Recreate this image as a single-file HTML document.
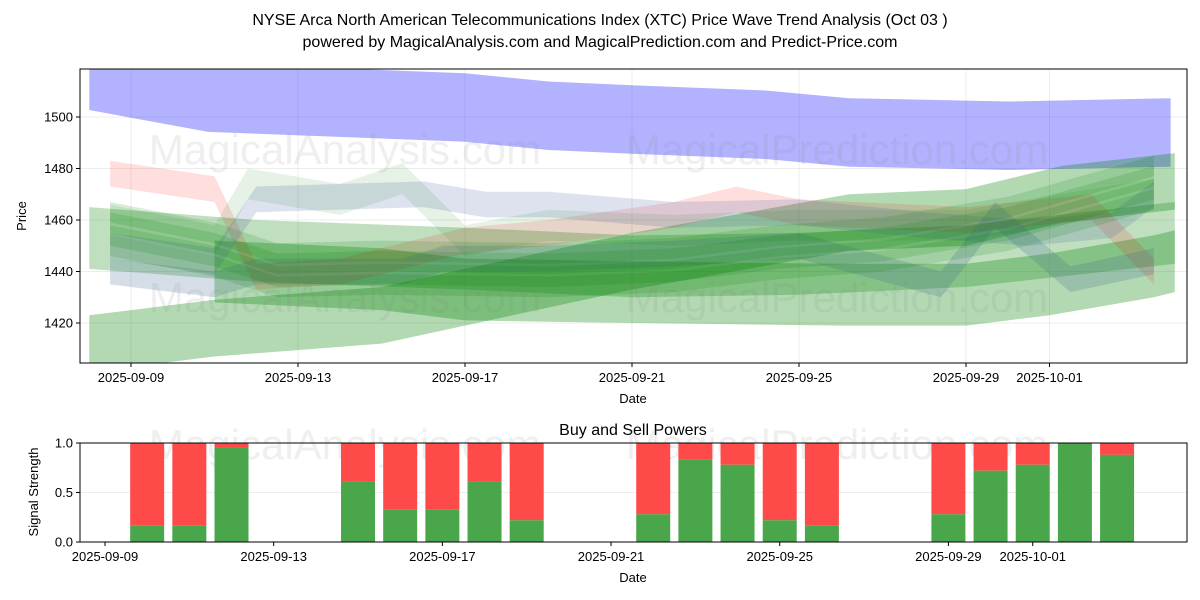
<!DOCTYPE html>
<html><head><meta charset="utf-8">
<style>
html,body{margin:0;padding:0;background:#fff;}
svg{display:block;font-family:"Liberation Sans","DejaVu Sans",sans-serif;}
</style></head>
<body>
<svg id="chart" width="1200" height="600" viewBox="0 0 1200 600" xmlns="http://www.w3.org/2000/svg">
  <rect x="0" y="0" width="1200" height="600" fill="#fff"/>
  <text x="600" y="25" text-anchor="middle" font-size="16" fill="#000">NYSE Arca North American Telecommunications Index (XTC) Price Wave Trend Analysis (Oct 03 )</text>
  <text x="600" y="47" text-anchor="middle" font-size="16" fill="#000">powered by MagicalAnalysis.com and MagicalPrediction.com and Predict-Price.com</text>
  <g id="topPanel"></g>
  <g id="botPanel"></g>
</svg>
<script>
// ---- price panel data (days offset from 2025-09-09) ----
const blueDays   = [-1, 1.85, 8, 10, 12, 15.2, 17.2, 21, 24.9];
const blueCenter = [1516, 1507.5, 1503.7, 1500.5, 1499, 1497, 1494, 1492.7, 1494];
const blueHalf   = 13.3;

const greenADays   = [-1, 2, 6, 8, 12, 17.2, 20, 22.3, 25];
const greenACenter = [1412, 1418, 1423, 1430, 1444, 1459, 1461, 1470, 1475];
const greenAHalf   = 11;

const greenBDays   = [2, 6, 8, 12, 17, 20, 22, 24.5, 25];
const greenBCenter = [1440, 1437, 1433, 1432, 1431, 1431, 1435, 1442, 1444];
const greenBHalf   = 12;

const greenCDays   = [-1, 3, 8, 12, 16, 20, 25];
const greenCCenter = [1453, 1448, 1445, 1442, 1443, 1446, 1455];
const greenCHalf   = 12;

const bundleDays   = [-0.5, 2, 3.5, 6, 10, 13, 15.5, 18, 21, 24.5];
const bundleCenter = [1456, 1448, 1440, 1441, 1440, 1442, 1447, 1450, 1458, 1474];
const bundleOffsets = [-6, -2, 3, 7];

const greyDays   = [-0.5, 2, 3, 7, 8.5, 10, 13, 16, 19, 21.5, 23.5, 24.5];
const greyCenter = [1450, 1444, 1468, 1470, 1466, 1466, 1462, 1463, 1458, 1455, 1458, 1470];

const zigDays   = [-0.5, 2, 3, 5, 6.5, 7.5, 10, 13, 16, 19.4, 20.7, 22.5, 24.5];
const zigCenter = [1440, 1435, 1440, 1440, 1440, 1445, 1445, 1447, 1450, 1435, 1462, 1437, 1444];

const lgDays   = [-0.5, 2, 2.8, 5, 6.5, 8, 10, 13, 16, 20, 24.5];
const lgCenter = [1460, 1452, 1474, 1468, 1476, 1452, 1458, 1456, 1458, 1458, 1470];

const pinkDays   = [-0.5, 2, 3, 5, 8, 10, 13, 14.5, 16, 20, 23, 24.5];
const pinkCenter = [1478, 1472, 1438, 1440, 1452, 1455, 1462, 1468, 1463, 1460, 1465, 1440];

const priceTicks = [1420, 1440, 1460, 1480, 1500];
const dateTicks  = [0, 4, 8, 12, 16, 20, 22];
const dateLabels = ["2025-09-09","2025-09-13","2025-09-17","2025-09-21","2025-09-25","2025-09-29","2025-10-01"];

// ---- signal panel data ----
const sigDays  = [1, 2, 3, 6, 7, 8, 9, 10, 13, 14, 15, 16, 17, 20, 21, 22, 23, 24];
const sigBuy   = [0.17, 0.17, 0.95, 0.61, 0.33, 0.33, 0.61, 0.22, 0.28, 0.83, 0.78, 0.22, 0.17, 0.28, 0.72, 0.78, 1.0, 0.88];
const sigTicks = [0, 0.5, 1.0];

const NS = "http://www.w3.org/2000/svg";
function mk(parent, tag, attrs, text){
  const e = document.createElementNS(NS, tag);
  for (const k in attrs) e.setAttribute(k, attrs[k]);
  if (text !== undefined) e.textContent = text;
  parent.appendChild(e);
  return e;
}
const T = {x0:80, x1:1187, y0:69, y1:363};
const tx = d => 131 + d * 41.75;
const ty = v => 117 + (1500 - v) * 2.575;
const B = {x0:80, x1:1187, y0:443, y1:542};
const bx = d => 105 + d * 42.17;
const by = v => 542 - v * 99;

const topG = document.getElementById('topPanel');
const botG = document.getElementById('botPanel');

const cp = mk(topG, 'clipPath', {id:'clipTop'});
mk(cp, 'rect', {x:T.x0, y:T.y0, width:T.x1-T.x0, height:T.y1-T.y0});

priceTicks.forEach(v => {
  const l = mk(topG, 'line', {x1:T.x0, x2:T.x1, y1:ty(v), y2:ty(v), stroke:'#b0b0b0', 'stroke-opacity':0.3, 'stroke-width':0.8});
  
  
});
dateTicks.forEach(d => {
  const l = mk(topG, 'line', {x1:tx(d), x2:tx(d), y1:T.y0, y2:T.y1, stroke:'#b0b0b0', 'stroke-opacity':0.3, 'stroke-width':0.8});
  
  
});

const bands = mk(topG, 'g', {'clip-path':'url(#clipTop)'});



function band(days, centers, half, fill, op, name){
  const upper = days.map((d,i) => tx(d).toFixed(1) + ',' + ty(centers[i] + half).toFixed(1));
  const lower = days.map((d,i) => tx(d).toFixed(1) + ',' + ty(centers[i] - half).toFixed(1)).reverse();
  const p = mk(bands, 'polygon', {points: upper.concat(lower).join(' '), fill: fill, 'fill-opacity': op});
  
  
}
band(blueDays, blueCenter, blueHalf, '#0000ff', 0.3, 'blue-upper-band');
band(greenADays, greenACenter, greenAHalf, '#008000', 0.3, 'green-rising-band');
band(greenBDays, greenBCenter, greenBHalf, '#008000', 0.3, 'green-lower-band');
band(greenCDays, greenCCenter, greenCHalf, '#008000', 0.25, 'green-descending-band');
band(pinkDays, pinkCenter, 5, '#ff0000', 0.13, 'pink-band');
band(lgDays, lgCenter, 6, '#008000', 0.1, 'light-green-band');
band(greyDays, greyCenter, 5, '#4060a0', 0.18, 'grey-blue-band');
band(zigDays, zigCenter, 5, '#406890', 0.22, 'zigzag-band');
bundleOffsets.forEach(o => {
  band(bundleDays, bundleCenter.map(c => c + o), 4, '#008000', 0.15, 'green-bundle-band');
});

[[345,150,'MagicalAnalysis.com'],[837,150,'MagicalPrediction.com'],[345,298,'MagicalAnalysis.com'],[837,298,'MagicalPrediction.com']].forEach(w => {
  const t = mk(topG, 'text', {x:w[0], y:w[1]+14, 'text-anchor':'middle', 'font-size':42, fill:'#808080', 'fill-opacity':0.13}, w[2]);
  
  
});

const f1 = mk(topG, 'rect', {x:T.x0, y:T.y0, width:T.x1-T.x0, height:T.y1-T.y0, fill:'none', stroke:'#000', 'stroke-width':1});



priceTicks.forEach(v => {
  mk(topG, 'line', {x1:T.x0-4, x2:T.x0, y1:ty(v), y2:ty(v), stroke:'#000'});
  const t = mk(topG, 'text', {x:T.x0-7, y:ty(v)+4.5, 'text-anchor':'end', 'font-size':13}, String(v));
  
  
});
dateTicks.forEach((d,i) => {
  mk(topG, 'line', {x1:tx(d), x2:tx(d), y1:T.y1, y2:T.y1+4, stroke:'#000'});
  const t = mk(topG, 'text', {x:tx(d), y:T.y1+19, 'text-anchor':'middle', 'font-size':13}, dateLabels[i]);
  
  
});
const xt = mk(topG, 'text', {x:633, y:403, 'text-anchor':'middle', 'font-size':13}, 'Date');


const yt = mk(topG, 'text', {x:26, y:216, 'text-anchor':'middle', 'font-size':13, transform:'rotate(-90 26 216)'}, 'Price');



const st = mk(botG, 'text', {x:633, y:435, 'text-anchor':'middle', 'font-size':16}, 'Buy and Sell Powers');



sigTicks.forEach(v => {
  const l = mk(botG, 'line', {x1:B.x0, x2:B.x1, y1:by(v), y2:by(v), stroke:'#b0b0b0', 'stroke-opacity':0.3, 'stroke-width':0.8});
  
  
});
[[345,'MagicalAnalysis.com'],[837,'MagicalPrediction.com']].forEach(w => {
  const t = mk(botG, 'text', {x:w[0], y:459, 'text-anchor':'middle', 'font-size':42, fill:'#808080', 'fill-opacity':0.13}, w[1]);
  
  
});
sigDays.forEach((d,i) => {
  const cx = bx(d), w = 34;
  const r1 = mk(botG, 'rect', {x:cx-w/2, y:by(1), width:w, height:by(sigBuy[i]) - by(1), fill:'#ff4a4a'});
  
  
  const r2 = mk(botG, 'rect', {x:cx-w/2, y:by(sigBuy[i]), width:w, height:by(0) - by(sigBuy[i]), fill:'#4aa64a'});
  
  
});
const f2 = mk(botG, 'rect', {x:B.x0, y:B.y0, width:B.x1-B.x0, height:B.y1-B.y0, fill:'none', stroke:'#000', 'stroke-width':1});


sigTicks.forEach(v => {
  mk(botG, 'line', {x1:B.x0-4, x2:B.x0, y1:by(v), y2:by(v), stroke:'#000'});
  const t = mk(botG, 'text', {x:B.x0-7, y:by(v)+4.5, 'text-anchor':'end', 'font-size':13}, v.toFixed(1));
  
  
});
dateTicks.forEach((d,i) => {
  mk(botG, 'line', {x1:bx(d), x2:bx(d), y1:B.y1, y2:B.y1+4, stroke:'#000'});
  const t = mk(botG, 'text', {x:bx(d), y:B.y1+19, 'text-anchor':'middle', 'font-size':13}, dateLabels[i]);
  
  
});
const bxt = mk(botG, 'text', {x:633, y:582, 'text-anchor':'middle', 'font-size':13}, 'Date');


const byt = mk(botG, 'text', {x:38, y:492, 'text-anchor':'middle', 'font-size':13, transform:'rotate(-90 38 492)'}, 'Signal Strength');


</script>
</body></html>
